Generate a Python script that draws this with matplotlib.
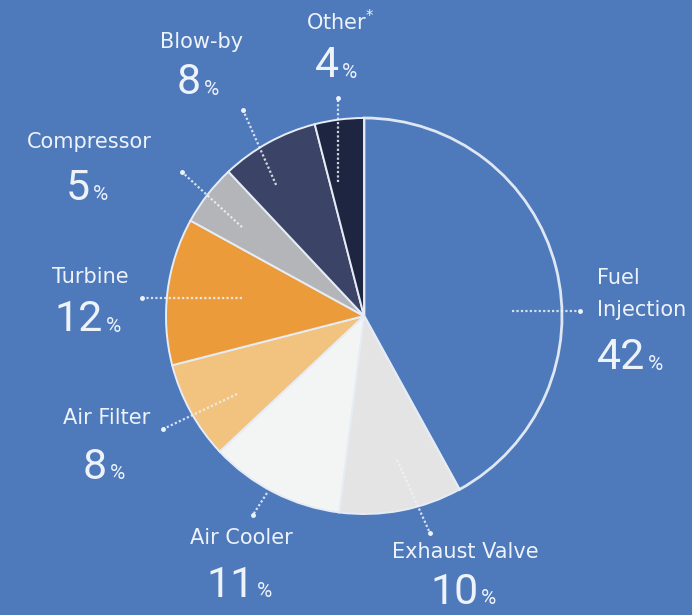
import matplotlib
matplotlib.use("Agg")
import matplotlib.pyplot as plt

# 部品ごとの割合データ
parts = ["Fuel\nInjection", "Exhaust Valve", "Air Cooler", "Air Filter",
         "Turbine", "Compressor", "Blow-by", "Other$^{*}$"]
shares = [42, 10, 11, 8, 12, 5, 8, 4]
colors = ["#4e79bb", "#e4e4e4", "#f3f5f5", "#f2c27f",
          "#ec9b3b", "#b4b5b9", "#3b4466", "#1e2540"]

bg = "#4e79bb"
txt = "#eef3fa"

# ラベルの位置(円の半径=1)
label_pos = [(1.177, 0.11), (0.51, -1.19), (-0.621, -1.121), (-1.298, -0.515),
             (-1.384, 0.197), (-1.389, 0.879), (-0.818, 1.384), (-0.121, 1.485)]
num_pos = [(1.177, -0.212), (0.515, -1.395), (-0.616, -1.359), (-1.298, -0.763),
           (-1.379, -0.020), (-1.384, 0.646), (-0.823, 1.177), (-0.126, 1.263)]
# 引き出し線の両端
leaders = [((0.747, 0.025), (1.091, 0.025)),
           ((0.167, -0.727), (0.333, -1.096)),
           ((-0.490, -0.894), (-0.561, -1.005)),
           ((-0.641, -0.394), (-1.015, -0.571)),
           ((-0.616, 0.091), (-1.121, 0.091)),
           ((-0.616, 0.449), (-0.919, 0.727)),
           ((-0.444, 0.662), (-0.611, 1.040)),
           ((-0.131, 0.677), (-0.131, 1.101))]

fig = plt.figure(figsize=(6.92, 6.15), dpi=100, facecolor=bg)
ax = fig.add_axes([0, 0, 1, 1])
ax.set_facecolor(bg)

wedges, _ = ax.pie(shares, colors=colors, startangle=90, counterclock=False,
                   radius=1, center=(0, 0),
                   wedgeprops=dict(edgecolor="#e6ecf6", linewidth=1.4))
wedges[0].set_edgecolor("#dfe7f3")
wedges[0].set_linewidth(2)

ax.set_xlim(-364 / 198, 328 / 198)
ax.set_ylim(-299 / 198, 316 / 198)
ax.axis("off")

for i in range(len(parts)):
    (x0, y0), (x1, y1) = leaders[i]
    ax.plot([x0, x1], [y0, y1], color=txt, alpha=0.85, lw=1.6,
            linestyle=(0, (1, 1)), solid_capstyle="butt")
    ax.plot([x1], [y1], "o", color=txt, ms=2.5)

    right = i == 0
    ha = "left" if right else "center"
    lx, ly = label_pos[i]
    ax.text(lx, ly, parts[i], color=txt, fontsize=15, ha=ha, va="center",
            family="DejaVu Sans", linespacing=1.75)

    nx, ny = num_pos[i]
    if not right:
        nx -= 0.06
    num = ax.text(nx, ny, str(shares[i]), color=txt, fontsize=31, ha=ha,
                  va="center", family=["Roboto", "DejaVu Sans"])
    ax.annotate("%", xy=(1, 0.12), xycoords=num, xytext=(2, 0),
                textcoords="offset points", color=txt, fontsize=15,
                ha="left", va="bottom", family=["Roboto", "DejaVu Sans"])

fig.savefig("out.png", dpi=100, facecolor=bg)
